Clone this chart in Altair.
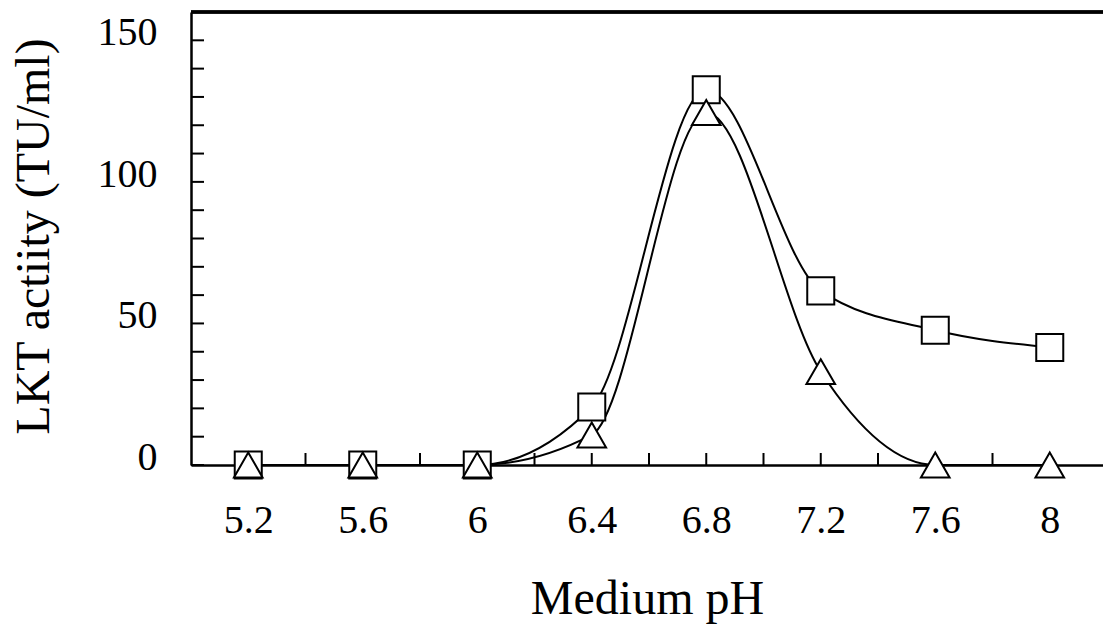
import altair as alt
import pandas as pd

# Data
ph = [5.2, 5.6, 6.0, 6.4, 6.8, 7.2, 7.6, 8.0]
square_vals = [0, 0, 0, 20.5, 132.5, 61.5, 47.6, 41.5]
triangle_vals = [0, 0, 0, 10.6, 124.5, 33, 0, 0]

x_label_values = [5.2, 5.6, 6.0, 6.4, 6.8, 7.2, 7.6, 8.0]
x_tick_values = [5.2, 5.4, 5.6, 5.8, 6.0, 6.2, 6.4, 6.6, 6.8, 7.0, 7.2, 7.4, 7.6, 7.8, 8.0]
y_label_values = [0, 50, 100, 150]
y_tick_values = [0, 10, 20, 30, 40, 50, 60, 70, 80, 90, 100, 110, 120, 130, 140, 150]
x_domain = [5.0, 8.186]
y_domain = [0, 160]

FONT = "Liberation Serif"

sq = pd.DataFrame({"ph": ph, "val": square_vals})
tr = pd.DataFrame({"ph": ph, "val": triangle_vals})
xt_df = pd.DataFrame({"ph": x_tick_values})
yt_df = pd.DataFrame({"val": y_tick_values})

xs = alt.Scale(domain=x_domain, nice=False, zero=False)
ys = alt.Scale(domain=y_domain, nice=False)

x_axis = alt.Axis(
    values=x_label_values, labelExpr="format(datum.value, '~g')",
    ticks=False, grid=False, domainColor="black", domainWidth=2.5,
    labelFont=FONT, labelFontSize=40, labelColor="black", labelPadding=35,
    title="Medium pH", titleFont=FONT, titleFontSize=48, titleFontWeight="normal",
    titleColor="black", titleBaseline="alphabetic", titleY=148,
)
y_axis = alt.Axis(
    values=y_label_values, ticks=False, grid=False, domainColor="black", domainWidth=2.5,
    labelFont=FONT, labelFontSize=40, labelColor="black", labelPadding=34, labelOffset=-7.5,
    title="LKT actiity (TU/ml)", titleFont=FONT, titleFontSize=48, titleFontWeight="normal",
    titleColor="black", titleBaseline="alphabetic", titleX=-143, titleY=224,
)

X = alt.X("ph:Q", scale=xs, axis=x_axis)
Y = alt.Y("val:Q", scale=ys, axis=y_axis)

line_sq = alt.Chart(sq).mark_line(interpolate="monotone", color="black", strokeWidth=2).encode(x=X, y=Y)
line_tr = alt.Chart(tr).mark_line(interpolate="monotone", color="black", strokeWidth=2).encode(x=X, y=Y)

pts_sq = alt.Chart(sq).mark_point(shape="square", size=730, filled=True, fill="white",
                                  stroke="black", strokeWidth=2, opacity=1).encode(x=X, y=Y)
pts_tr = alt.Chart(tr).mark_point(shape="triangle-up", size=820, filled=True, fill="white",
                                  stroke="black", strokeWidth=2, opacity=1).encode(x=X, y=Y)

x_ticks = alt.Chart(xt_df).mark_tick(orient="vertical", size=12, thickness=2, color="black",
                                     yOffset=-6, opacity=1).encode(
    x=X, y=alt.YDatum(0, scale=ys, axis=y_axis))
y_ticks = alt.Chart(yt_df).mark_tick(orient="horizontal", size=13, thickness=2, color="black",
                                     xOffset=6.5, opacity=1).encode(
    y=Y, x=alt.XDatum(x_domain[0], scale=xs, axis=x_axis))

top_border = alt.Chart(sq).mark_rule(color="black", strokeWidth=2.5).encode(
    x=alt.XDatum(x_domain[0], scale=xs, axis=x_axis),
    x2=alt.X2Datum(x_domain[1]),
    y=alt.YDatum(y_domain[1], scale=ys, axis=y_axis),
)

chart = alt.layer(
    line_sq, line_tr, x_ticks, y_ticks, top_border, pts_sq, pts_tr
).properties(
    width=912, height=453,
    padding={"left": 191, "top": 12, "right": 0, "bottom": 162},
    autosize=alt.AutoSizeParams(type="none"),
    background="white",
).configure_view(stroke=None)

chart.save("out.html", embed_options={"renderer": "svg", "actions": False})
